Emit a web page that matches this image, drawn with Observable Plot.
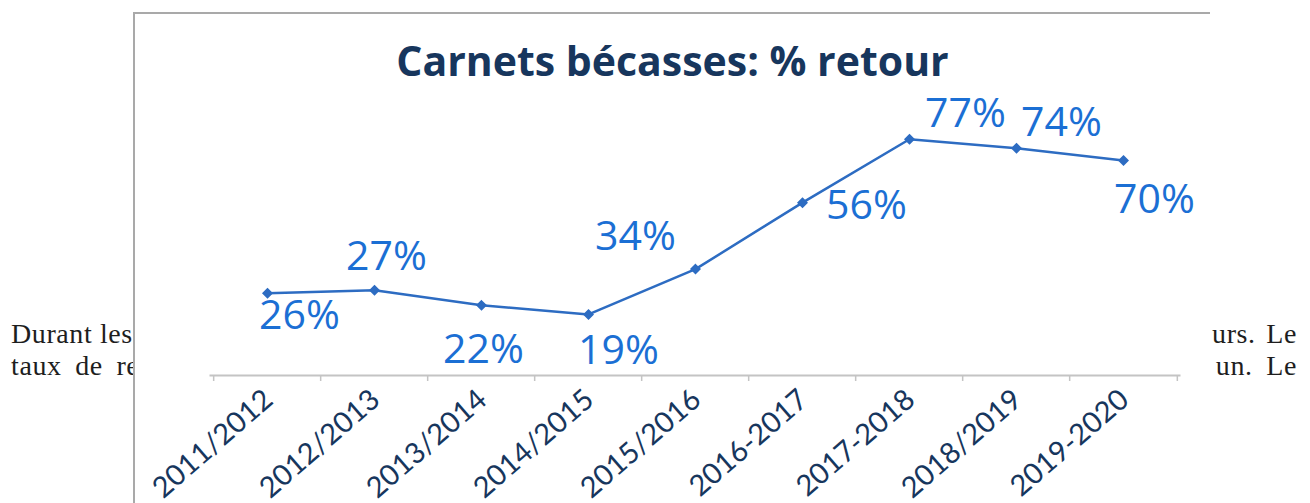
<!DOCTYPE html>
<html>
<head>
<meta charset="utf-8">
<script src="https://cdn.jsdelivr.net/npm/d3@7"></script>
<script src="https://cdn.jsdelivr.net/npm/@observablehq/plot@0.6"></script>
<style>
  html, body { margin: 0; padding: 0; background: #fff; }
  body { width: 1310px; height: 503px; position: relative; overflow: hidden; }
  .doc { position: absolute; font-family: "Liberation Serif", "DejaVu Serif", serif; font-size: 28px; letter-spacing: 0.6px; color: #1e1e1e; white-space: nowrap; line-height: 1; }
  #box { position: absolute; left: 133px; top: 12px; width: 1075px; height: 520px; background: #fff;
         border-left: 2px solid #a9a9a9; border-top: 2px solid #a9a9a9; }
  #title { position: absolute; left: 0; width: 1075px; top: 25px; text-align: center;
           font-family: "Open Sans", sans-serif; font-weight: 700; font-size: 41px; line-height: 42px; color: #17365d; }
  #chart { position: absolute; left: 0; top: 81px; }
</style>
</head>
<body>
<div class="doc" style="left:11px; top:320px;">Durant les</div>
<div class="doc" style="left:11px; top:352px; word-spacing:6px;">taux de re</div>
<div class="doc" style="right:13px; top:320px; word-spacing:3px;">urs. Le</div>
<div class="doc" style="right:13px; top:352px; word-spacing:6px;">un. Le</div>
<div id="box">
  <div id="title">Carnets bécasses: % retour</div>
  <div id="chart"></div>
</div>
<script>
const categories = ["2011/2012", "2012/2013", "2013/2014", "2014/2015", "2015/2016", "2016-2017", "2017-2018", "2018/2019", "2019-2020"];
const values = [26, 27, 22, 19, 34, 56, 77, 74, 70];

// label placement (style config, px offsets from each point)
const labelOffset = {
  "2011/2012": [32, 23],
  "2012/2013": [12, -33],
  "2013/2014": [2, 45],
  "2014/2015": [30, 36],
  "2015/2016": [-60, -32],
  "2016-2017": [64, 3],
  "2017-2018": [56, -25],
  "2018/2019": [45, -25],
  "2019-2020": [31, 39]
};

const data = categories.map((c, i) => ({cat: c, v: values[i]}));

const W = 1073, H = 408, mL = 75, mR = 29, mB = 128;
const step = (W - mL - mR) / categories.length;
const navy = "#17365d";
const lineBlue = "#2d6cc2";
const labelBlue = "#1b6fd4";
const axisGray = "#c4c4c4";

const labelMarks = data.map(d => Plot.text([d], {
  x: "cat", y: "v", text: d => d.v + "%",
  dx: labelOffset[d.cat][0], dy: labelOffset[d.cat][1],
  fill: labelBlue, fontSize: 41, fontFamily: "Open Sans", fontWeight: 400,
  textAnchor: "middle", lineAnchor: "middle"
}));

const plot = Plot.plot({
  width: W, height: H,
  marginLeft: mL, marginRight: mR, marginTop: 20, marginBottom: mB,
  x: {type: "point", domain: categories, padding: 0.5, axis: null},
  y: {domain: [0, 80], range: [276.3, 276.3 - 80 * 3.02], axis: null},
  style: {background: "transparent", overflow: "visible"},
  marks: [
    Plot.frame({anchor: "bottom", stroke: axisGray, strokeWidth: 2}),
    Plot.axisX({ticks: categories, tickSize: 6, text: null, label: null, dx: -step / 2, stroke: axisGray, strokeWidth: 1.5}),
    Plot.axisX({ticks: categories.slice(-1), tickSize: 6, text: null, label: null, dx: step / 2, stroke: axisGray, strokeWidth: 1.5}),
    Plot.axisX({ticks: categories, tickSize: 0, tickPadding: 20, tickRotate: -41, dx: 1, label: null,
                fontSize: 29, fontFamily: "Lato, Open Sans, sans-serif", fill: navy}),
    Plot.line(data, {x: "cat", y: "v", stroke: lineBlue, strokeWidth: 2.5}),
    Plot.dot(data, {x: "cat", y: "v", symbol: "diamond2", r: 4, fill: lineBlue, stroke: lineBlue}),
    ...labelMarks
  ]
});
document.getElementById("chart").appendChild(plot);
</script>
</body>
</html>
